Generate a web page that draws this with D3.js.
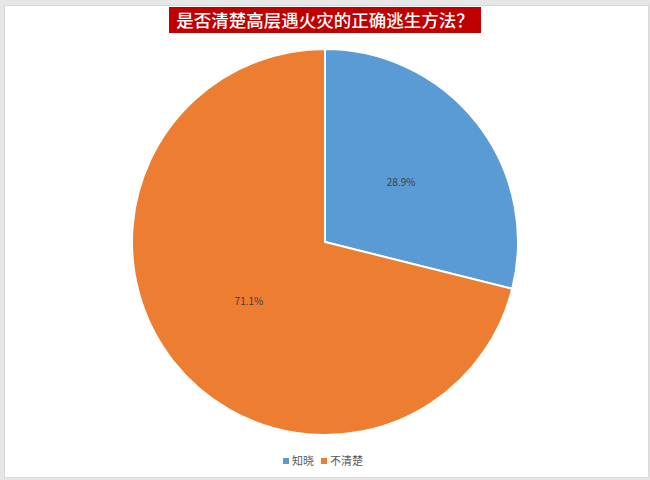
<!DOCTYPE html>
<html>
<head>
<meta charset="utf-8">
<script src="https://cdn.jsdelivr.net/npm/d3@7"></script>
<style>
  body { margin: 0; background: #ffffff; }
  svg { display: block; font-family: "Noto Sans CJK SC", "Noto Sans", sans-serif; }
</style>
</head>
<body>
<div id="container"></div>
<script>
// chart data
var categories = ["知晓", "不清楚"];
var shares = [28.9, 71.1];
var labels = ["28.9%", "71.1%"];
var colors = ["#5B9BD5", "#ED7D31"];
var title = "是否清楚高层遇火灾的正确逃生方法？";

(function(){
    var width = 650,
        height = 480;

    var svg = d3.select("#container")
        .append("svg")
        .attr("width", width)
        .attr("height", height);

    // outer frame
    svg.append("rect")
        .attr("width", width).attr("height", height)
        .attr("fill", "#e6e6e6");
    svg.append("rect")
        .attr("x", 4.5).attr("y", 5.5)
        .attr("width", 644).attr("height", 472)
        .attr("fill", "#ffffff")
        .attr("stroke", "#d9d9d9");

    // title box
    svg.append("rect")
        .attr("x", 169).attr("y", 7)
        .attr("width", 312).attr("height", 26)
        .attr("fill", "#C00000");
    svg.append("text")
        .attr("x", 325).attr("y", 26.5)
        .attr("text-anchor", "middle")
        .attr("fill", "#ffffff")
        .attr("font-size", 17.5)
        .attr("font-weight", 500)
        .text(title);

    var cx = 325, cy = 242, r = 193;
    var g = svg.append("g").attr("transform", "translate(" + cx + "," + cy + ")");

    var pie = d3.pie().sort(null).value(function(d){ return d; });
    var arcs = pie(shares);
    var arc = d3.arc().innerRadius(0).outerRadius(r);
    var labelArc = d3.arc().innerRadius(r * 0.5).outerRadius(r * 0.5);

    g.selectAll("path.slice")
        .data(arcs)
        .enter().append("path")
        .attr("class", "slice")
        .attr("d", arc)
        .attr("fill", function(d, i){ return colors[i]; })
        .attr("stroke", "#ffffff")
        .attr("stroke-width", 2);

    g.selectAll("text.lbl")
        .data(arcs)
        .enter().append("text")
        .attr("class", "lbl")
        .attr("transform", function(d){ return "translate(" + labelArc.centroid(d) + ")"; })
        .attr("text-anchor", "middle")
        .attr("dy", "0.35em")
        .attr("font-size", 10)
        .attr("fill", "#404040")
        .text(function(d, i){ return labels[i]; });

    // legend
    var legendX = [283, 321];
    var leg = svg.selectAll("g.legend")
        .data(categories)
        .enter().append("g")
        .attr("class", "legend")
        .attr("transform", function(d, i){ return "translate(" + legendX[i] + ",461)"; });
    leg.append("rect")
        .attr("x", 0).attr("y", -3)
        .attr("width", 6).attr("height", 6)
        .attr("fill", function(d, i){ return colors[i]; });
    leg.append("text")
        .attr("x", 9).attr("dy", "0.35em")
        .attr("font-size", 11)
        .attr("fill", "#595959")
        .text(function(d){ return d; });
})();
</script>
</body>
</html>
